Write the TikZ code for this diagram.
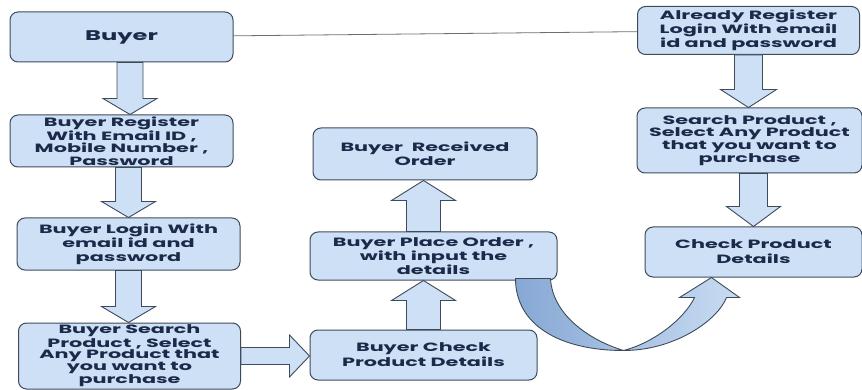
\documentclass[tikz,border=0pt]{standalone}
\usepackage{fontspec}
\setmainfont{Poppins}[FakeStretch=1.73]
\usetikzlibrary{positioning,calc}
\definecolor{boxfill}{HTML}{CDE0F6}
\definecolor{boxline}{HTML}{3E4B5B}
\definecolor{boxtext}{HTML}{1C2A4A}
\definecolor{curvedark}{HTML}{86A8D4}
\definecolor{curvelight}{HTML}{C9DCF2}
\definecolor{linkgray}{HTML}{6B6F75}
\newcommand\blockarrow[5]{%
  \coordinate (ba-s) at #1;
  \coordinate (ba-e) at #2;
  \coordinate (ba-b) at ($(ba-e)!#5!(ba-s)$);
  \draw[blockarrow] ($(ba-s)!#3!90:(ba-e)$) -- ($(ba-b)!#3!-90:(ba-s)$) -- ($(ba-b)!#4!-90:(ba-s)$)
    -- (ba-e) -- ($(ba-b)!#4!90:(ba-s)$) -- ($(ba-b)!#3!90:(ba-s)$) -- ($(ba-s)!#3!-90:(ba-e)$) -- cycle;}

\begin{document}
\begin{tikzpicture}[x=1pt, y=1pt, node distance=104pt]
  \tikzstyle{component} = [rectangle, draw=boxline, line width=1pt, fill=boxfill, align=center,
                                    rounded corners=8pt, inner sep=0pt, text=boxtext,
                                    font=\bfseries\fontsize{12}{12.5}\selectfont]
  \tikzstyle{blockarrow} = [draw=boxline, line width=0.9pt, fill=boxfill, line join=miter]
  \tikzstyle{curvearrow} = [draw=boxline, line width=0.9pt, left color=curvedark, right color=curvelight]

\useasboundingbox (0,0) rectangle (862,-390);
\node[component, minimum width=223pt, minimum height=50pt, font=\bfseries\fontsize{14}{16}\selectfont] (buyer) at (121.5,-37) {Buyer};
\node[component, below of=buyer, minimum width=223pt, minimum height=52pt] (reg) {Buyer Register\\With Email ID ,\\Mobile Number ,\\Password};
\node[component, below of=reg, xshift=7pt, yshift=1pt, minimum width=223pt, minimum height=52pt, font=\bfseries\fontsize{12}{14}\selectfont] (login) {Buyer Login With\\email id and\\password};
\node[component, below of=login, xshift=1pt, yshift=-8pt, minimum width=222pt, minimum height=66pt, font=\bfseries\fontsize{12}{11.8}\selectfont] (search) {Buyer Search\\Product , Select\\Any Product that\\you want to\\purchase};
\node[component, right of=search, xshift=190pt, yshift=1pt, minimum width=227pt, minimum height=50pt, font=\bfseries\fontsize{12}{15}\selectfont] (check) {Buyer Check\\Product Details};
\node[component, above of=check, xshift=10pt, yshift=-5pt, minimum width=247pt, minimum height=48pt, font=\bfseries\fontsize{12}{14}\selectfont] (place) {Buyer Place Order ,\\with input the\\details};
\node[component, above of=place, xshift=-8.5pt, yshift=-2pt, minimum width=224pt, minimum height=52pt, font=\bfseries\fontsize{12}{14}\selectfont] (recv) {Buyer\ \ Received\\Order};
\node[component, right of=buyer, xshift=523pt, yshift=6.5pt, minimum width=222pt, minimum height=48pt, font=\bfseries\fontsize{12}{14}\selectfont] (already) {Already Register\\Login With email\\id and password};
\node[component, below of=already, xshift=1pt, yshift=-6pt, minimum width=225pt, minimum height=65pt, font=\bfseries\fontsize{12}{12}\selectfont] (srchR) {Search Product ,\\Select Any Product\\that you want to\\purchase};
\node[component, below of=srchR, xshift=4pt, yshift=-7.5pt, minimum width=217pt, minimum height=50pt, font=\bfseries\fontsize{12}{15}\selectfont] (checkR) {Check Product\\Details};

\draw[linkgray, line width=0.8pt] (buyer) -- (already);

\blockarrow{($(buyer.south)+(8.5,0)$)}{($(reg.north)+(8.5,0)$)}{13pt}{27pt}{16pt}
\blockarrow{(reg.south -| login.north)}{(login.north)}{13pt}{27pt}{16pt}
\blockarrow{(login.south)}{(login.south |- search.north)}{13pt}{27pt}{16pt}
\blockarrow{(search.east)}{(check.west |- search.east)}{8.5pt}{21pt}{20pt}
\blockarrow{(check.north)}{(check.north |- place.south)}{17pt}{32pt}{20pt}
\blockarrow{(check.north |- place.north)}{(check.north |- recv.south)}{17pt}{32pt}{20pt}
\blockarrow{(already.south)}{(already.south |- srchR.north)}{14pt}{28pt}{18pt}
\blockarrow{(checkR.north |- srchR.south)}{(checkR.north)}{14pt}{27pt}{20pt}

\coordinate (cvP) at (place.south east);
\coordinate (cvQ) at (checkR.south west);
\draw[curvearrow] ($(cvP)+(-42,2)$) .. controls ($(cvP)+(-42,-45)$) and ($(cvP)+(3,-70)$) .. ($(cvP)+(66,-70)$)
  .. controls ($(cvQ)+(30,-73)$) and ($(cvQ)+(73,-43)$) .. ($(cvQ)+(82,-20)$) -- ($(cvQ)+(95,-20)$)
  -- ($(cvQ)+(67,0)$) -- ($(cvQ)+(35,-20)$) -- ($(cvQ)+(50,-20)$)
  .. controls ($(cvQ)+(40,-41)$) and ($(cvQ)+(10,-65)$) .. ($(cvP)+(66,-70)$)
  .. controls ($(cvP)+(33,-60)$) and ($(cvP)+(-5,-35)$) .. ($(cvP)+(-7,2)$) -- cycle;
\end{tikzpicture}
\end{document}
